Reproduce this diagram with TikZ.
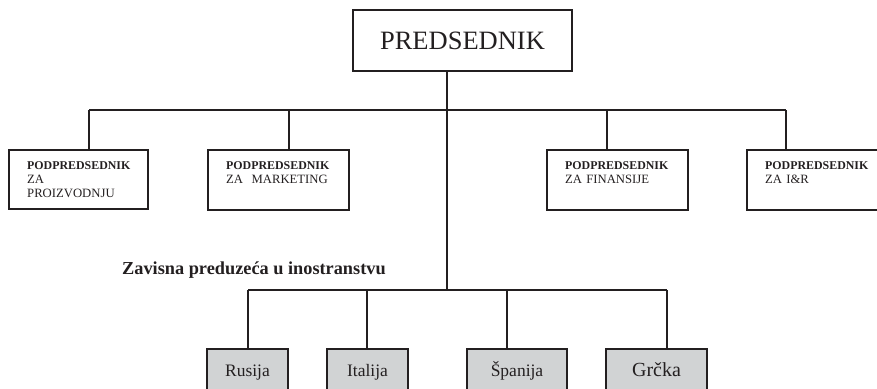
\documentclass[tikz,border=0pt]{standalone}
\usepackage{fontspec}
\setmainfont{Liberation Serif}
\definecolor{ink}{HTML}{231F20}
\definecolor{boxgray}{HTML}{D1D3D4}
\begin{document}
\begin{tikzpicture}[x=1pt,y=-1pt,
  frame/.style={draw=ink, line width=1.6pt, rectangle, inner sep=0pt},
  vptext/.style={anchor=base west, inner sep=0pt, text width=130pt, align=left,
    text=ink, font=\fontsize{12.7}{14}\selectfont},
  country/.style={frame, fill=boxgray, line width=2pt, text=ink,
    text height=12pt, text depth=0pt, minimum height=42pt,
    font=\fontsize{17.5}{20}\selectfont},
  wire/.style={draw=ink, line width=1.5pt}
]
\useasboundingbox (0,0) rectangle (877,388);
\clip (0,0) rectangle (877,388);

% president
\node[frame, minimum width=219pt, minimum height=61pt, text=ink,
  text height=17.5pt, text depth=0pt, font=\fontsize{26.5}{30}\selectfont]
  (pres) at (462.5,40.5) {PREDSEDNIK};

% vice presidents
\node[frame, minimum width=139pt, minimum height=59pt] (vp1) at (78.5,179.5) {};
\node[frame, minimum width=141pt, minimum height=60pt] (vp2) at (278.5,180) {};
\node[frame, minimum width=141pt, minimum height=60pt] (vp3) at (617.5,180) {};
\node[frame, minimum width=143pt, minimum height=60pt] (vp4) at (818.5,180) {};

\newcommand{\vphead}{{\fontsize{11.9}{14}\selectfont\bfseries PODPREDSEDNIK}}
\node[vptext] (vp1t) at (27,169) {\vphead\\ZA\\PROIZVODNJU};
\node[vptext] (vp2t) at (226,169) {\vphead\\ZA~~MARKETING};
\node[vptext] (vp3t) at (565,169) {\vphead\\ZA FINANSIJE};
\node[vptext] (vp4t) at (765,169) {\vphead\\ZA I\&R};

% upper bus
\coordinate (t1) at (89,110);
\coordinate (t2) at (289,110);
\coordinate (t3) at (607,110);
\coordinate (t4) at (786,110);
\coordinate (hub) at (447,290);
\draw[wire] (t1) -- (t4);
\draw[wire] (t1) -- (t1 |- vp1.north);
\draw[wire] (t2) -- (t2 |- vp2.north);
\draw[wire] (t3) -- (t3 |- vp3.north);
\draw[wire] (t4) -- (t4 |- vp4.north);
\draw[wire] (hub |- pres.south) -- (hub);

% subsidiaries
\node[anchor=base west, inner sep=0pt, text=ink,
  font=\fontsize{18.3}{20}\selectfont\bfseries]
  (zav) at (122,274) {Zavisna preduzeća u inostranstvu};

\node[country, minimum width=81pt] (rus) at (247.5,370) {Rusija};
\node[country, minimum width=81pt] (ita) at (367.5,370) {Italija};
\node[country, minimum width=100pt] (spa) at (517,370) {Španija};
\node[country, minimum width=101pt, font=\fontsize{20}{22}\selectfont] (grc) at (656.5,370) {Grčka};

\coordinate (b1) at (248,290);
\coordinate (b2) at (367,290);
\coordinate (b3) at (507,290);
\coordinate (b4) at (667,290);
\draw[wire] (b1) -- (b4);
\draw[wire] (b1) -- (b1 |- rus.north);
\draw[wire] (b2) -- (b2 |- ita.north);
\draw[wire] (b3) -- (b3 |- spa.north);
\draw[wire] (b4) -- (b4 |- grc.north);
\end{tikzpicture}
\end{document}
